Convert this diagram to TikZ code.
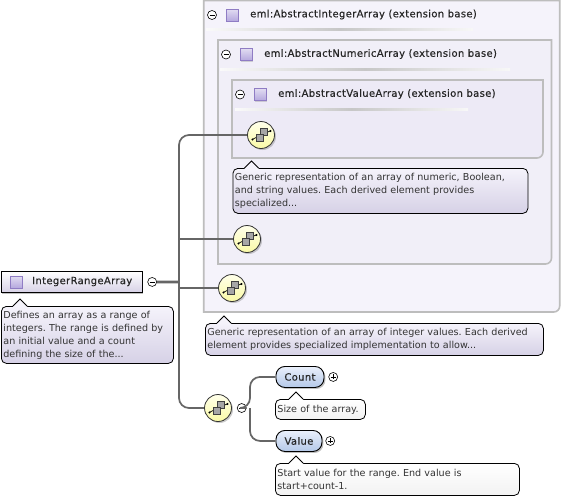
\documentclass[tikz,border=0pt]{standalone}
\usepackage{fontspec}
\setmainfont{DejaVu Sans}
\newfontfamily\headfont[FakeBold=0.4,LetterSpace=3.4]{DejaVu Sans}
\usepackage{xcolor}
\usetikzlibrary{arrows.meta,positioning,shadows}
\definecolor{edgegray}{HTML}{666666}
\definecolor{framegray}{HTML}{BDBDBD}
\definecolor{docbottom}{HTML}{D6D1E6}
\definecolor{doctop}{HTML}{F5F3FB}
\definecolor{iconedge}{HTML}{8F7CC4}
\definecolor{iconfill}{HTML}{B5A8DE}
\definecolor{pillbottom}{HTML}{B4C8E8}
\definecolor{pilltop}{HTML}{EAF0FB}
\newcommand{\grouppath}[5]{\draw[groupbox,fill=#5] (#1,#2) -- (#3,#2) -- (#3,#4-6) arc (0:90:6pt and -6pt) -- (#1,#4) -- cycle;}
\newcommand{\doctip}[3]{\fill[#3] ([xshift=#2-7pt]#1.north west) -- ++(7,-7) -- ++(7,7) -- ++(0,1.5) -- ++(-14,0) -- cycle;
  \draw[line width=.8pt] ([xshift=#2-7pt]#1.north west) -- ++(7,-7) -- ++(7,7);}
\begin{document}
\begin{tikzpicture}[x=1pt,y=-1pt,>=Latex]
\tikzstyle{groupbox}=[draw=framegray, line width=1.6pt]
\tikzstyle{headrule}=[left color=black!2, right color=black!3, middle color=black!22]
\tikzstyle{headtext}=[anchor=west, inner sep=0pt, font=\headfont\fontsize{10}{11}\selectfont, text=black!85]
\tikzstyle{typeicon}=[draw=iconedge, line width=.9pt, top color=white!60!iconfill, bottom color=iconfill, minimum size=12pt, inner sep=0pt, drop shadow={opacity=.3,shadow xshift=1pt,shadow yshift=-1pt}]
\tikzstyle{seqnode}=[circle, draw=black!80, line width=.8pt, top color=yellow!8, bottom color=yellow!50!black!12!yellow!35, minimum size=27pt, inner sep=0pt, drop shadow={opacity=.4,shadow xshift=1.5pt,shadow yshift=-1.5pt}]
\tikzstyle{docbox}=[draw=black, line width=.8pt, rounded corners=5pt, anchor=north west, align=left, inner xsep=2pt, inner ysep=0pt, top color=doctop, bottom color=docbottom, font=\fontsize{9.6}{13}\selectfont\frenchspacing, text=black!80]
\tikzstyle{notebox}=[docbox, top color=white, bottom color=black!5]
\tikzstyle{pillbox}=[draw=black, line width=.9pt, rounded corners=9pt, anchor=north west, minimum height=21pt, inner sep=0pt, top color=pilltop, bottom color=pillbottom, font=\headfont\fontsize{10}{11}\selectfont, text=black!85, drop shadow={opacity=.5,shadow xshift=1.5pt,shadow yshift=-1.5pt}]
\tikzstyle{minusbtn}=[circle, draw=black, line width=.6pt, fill=white, minimum size=9pt, inner sep=0pt, path picture={\draw[line width=.6pt] (path picture bounding box.center) ++(-2.5,0) -- ++(5,0);}]
\tikzstyle{plusbtn}=[minusbtn, path picture={\draw[line width=.6pt] (path picture bounding box.center) ++(-2.5,0) -- ++(5,0) ++(-2.5,-2.5) -- ++(0,5);}]
\tikzstyle{link}=[draw=edgegray, line width=1.7pt, rounded corners=10pt]
\tikzset{seqicon/.pic={
  \draw[line width=.7pt,black] (-8,4) -- (9,-4);
  \fill (-8.5,4.5) circle (1.1pt) (9.5,-4) circle (1.1pt);
  \draw[black!75,fill=black!35,line width=.6pt] (-1,-6.5) rectangle (6,0.5);
  \draw[black!75,fill=black!35,line width=.6pt] (-5,-1) rectangle (2,6);
}}
\useasboundingbox (0,0) rectangle (561,499);
\fill[white] (0,0) rectangle (561,499);
% nested extension boxes
\grouppath{203.7}{0.5}{559.7}{312}{doctop}
\grouppath{218}{40}{551.5}{264}{doctop!88!docbottom}
\grouppath{232}{80}{543}{158}{doctop!75!docbottom}
\shade[headrule] (206,28) rectangle (473,30);
\shade[headrule] (220,68) rectangle (510,70);
\shade[headrule] (235,108) rectangle (468,110);
\node[minusbtn] (minusint) at (212,15) {};
\node[typeicon, right=9pt of minusint] (iconint) {};
\node[headtext] (labelint) at (250,14.5) {eml:AbstractIntegerArray (extension base)};
\node[minusbtn] (minusnum) at (226,54.5) {};
\node[typeicon, right=9pt of minusnum] (iconnum) {};
\node[headtext] (labelnum) at (264,54) {eml:AbstractNumericArray (extension base)};
\node[minusbtn] (minusval) at (240,94.5) {};
\node[typeicon, right=9pt of minusval] (iconval) {};
\node[headtext] (labelval) at (278,94) {eml:AbstractValueArray (extension base)};
% root element
\node[draw=black, line width=.9pt, anchor=north west, minimum width=141pt, minimum height=21pt, inner sep=0pt, top color=white, bottom color=docbottom, drop shadow={opacity=.5,shadow xshift=1.5pt,shadow yshift=-1.5pt}] (root) at (0.5,271) {};
\node[typeicon] (iconroot) at (16,282) {};
\node[headtext] (labelroot) at (32,281.5) {IntegerRangeArray};
\node[minusbtn, right=5pt of root] (minusroot) {};
\coordinate (trunk) at (179,282);
% compositors
\node[seqnode] (seqa) at (261,135) {};
\node[seqnode] (seqb) at (247,239) {};
\node[seqnode] (seqc) at (232,288) {};
\node[seqnode] (seqd) at (218,408) {};
\node[minusbtn, right=5pt of seqd] (minusseq) {};
\coordinate (branch) at (250,408);
\draw[link] (seqa) -| (trunk) |- (seqd);
\draw[link, line width=1.3pt] (trunk |- seqb) -- (seqb);
\draw[link, line width=1.3pt] (trunk |- seqc) -- (seqc);
\draw[link, line width=2.6pt] (minusroot) -- (trunk);
\pic at (seqa) {seqicon};
\pic at (seqb) {seqicon};
\pic at (seqc) {seqicon};
\pic at (seqd) {seqicon};
% child elements
\node[pillbox, minimum width=48pt] (count) at (275.5,366) {Count};
\node[pillbox, minimum width=46pt] (value) at (275.5,430) {Value};
\node[plusbtn, right=4pt of count] (pluscount) {};
\node[plusbtn, right=3pt of value] (plusvalue) {};
\draw[link] (minusseq) -- (branch) |- (count);
\draw[link] (branch) |- (value);
% annotations
\node[docbox, text width=168pt, minimum height=57pt] (docroot) at (1,306) {Defines an array as a range of\\integers. The range is defined by\\an initial value and a count\\defining the size of the...};
\doctip{docroot}{19}{doctop}
\node[docbox, text width=291pt, minimum height=45pt] (docval) at (232.5,168) {Generic representation of an array of numeric, Boolean,\\and string values. Each derived element provides\\specialized...};
\doctip{docval}{19}{doctop}
\node[docbox, text width=334pt, minimum height=32pt] (docint) at (205,323) {Generic representation of an array of integer values. Each derived\\element provides specialized implementation to allow...};
\doctip{docint}{19}{doctop}
\node[notebox, text width=86pt, minimum height=20pt] (doccount) at (275,399) {Size of the array.};
\doctip{doccount}{21}{white}
\node[notebox, text width=240pt, minimum height=32pt] (docvalue) at (275,463) {Start value for the range. End value is\\start+count-1.};
\doctip{docvalue}{21}{white}
\end{tikzpicture}
\end{document}
